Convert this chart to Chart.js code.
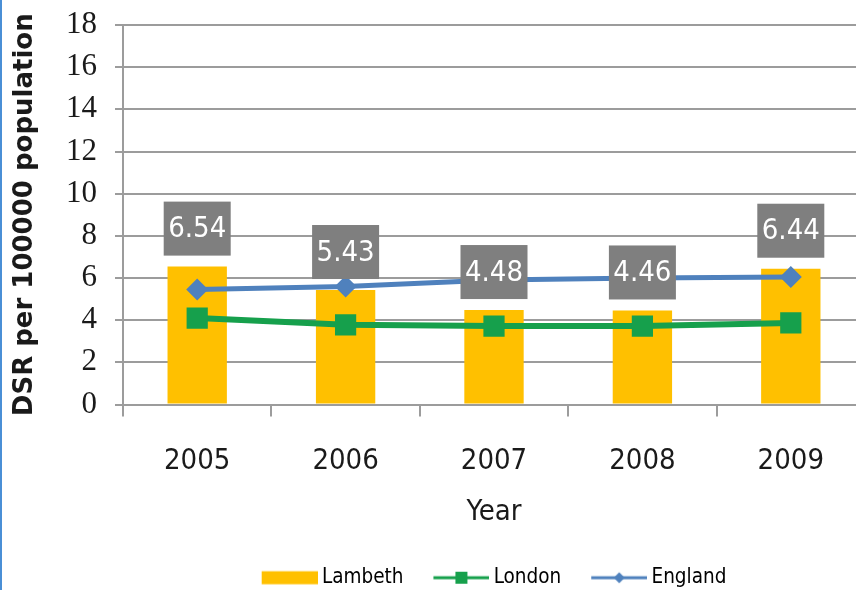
<!DOCTYPE html>
<html>
<head>
<meta charset="utf-8">
<title>DSR per 100000 population</title>
<script src="https://cdn.jsdelivr.net/npm/chart.js@4.4.1/dist/chart.umd.min.js"></script>
<style>
    html, body { margin: 0; padding: 0; background: #fff; overflow: hidden; }
    #quadro { position: relative; width: 856px; height: 590px; overflow: hidden; }
    #borda { position: absolute; left: 0; top: 0; width: 2px; height: 590px; background: #4a8fd6; }
    canvas { position: absolute; left: 0; top: 0; }
</style>
</head>
<body>
<div id="quadro">
    <canvas id="grafico" width="880" height="590"></canvas>
    <div id="borda"></div>
</div>
<script>
const years = ['2005', '2006', '2007', '2008', '2009'];
const lambeth = [6.54, 5.43, 4.48, 4.46, 6.44];
const london = [4.1, 3.78, 3.72, 3.72, 3.87];
const england = [5.46, 5.6, 5.9, 6.0, 6.05];
const yTicks = [0, 2, 4, 6, 8, 10, 12, 14, 16, 18];

const amarelo = '#ffc000';
const verde = '#16a04c';
const azul = '#4f81bd';
const cinza = '#9c9c9c';
const narrow = '"Liberation Sans Narrow", "DejaVu Sans Condensed", sans-serif';

// small pictures for the legend: bar swatch, line with square, line with diamond
function simbolo(tipo, cor) {
    const c = document.createElement('canvas');
    c.width = 62;
    c.height = 16;
    const g = c.getContext('2d');
    g.fillStyle = cor;
    g.strokeStyle = cor;
    if (tipo == 'bar') {
        g.fillRect(6, 1.5, 56, 13);
        return c;
    }
    g.lineWidth = 3;
    g.beginPath();
    g.moveTo(6, 8);
    g.lineTo(62, 8);
    g.stroke();
    if (tipo == 'square') {
        g.fillRect(28, 2, 12, 12);
    } else {
        g.beginPath();
        g.moveTo(34, 2.5);
        g.lineTo(39.5, 8);
        g.lineTo(34, 13.5);
        g.lineTo(28.5, 8);
        g.closePath();
        g.fill();
    }
    return c;
}

// grey boxes with the Lambeth value above each bar
const caixasValor = {
    id: 'caixasValor',
    afterDatasetsDraw(chart) {
        const ctx = chart.ctx;
        const meta = chart.getDatasetMeta(0);
        ctx.save();
        ctx.font = '29px ' + narrow;
        ctx.textAlign = 'center';
        ctx.textBaseline = 'middle';
        meta.data.forEach((barra, i) => {
            const w = 67, h = 54;
            const x = barra.x - w / 2;
            const y = barra.y - 11 - h;
            ctx.fillStyle = '#7f7f7f';
            ctx.fillRect(x, y, w, h);
            ctx.fillStyle = '#ffffff';
            ctx.fillText(lambeth[i].toFixed(2), barra.x, y + h / 2 + 1);
        });
        ctx.restore();
    }
};

const data = {
    labels: years,
    datasets: [{
        type: 'bar',
        label: 'Lambeth',
        data: lambeth,
        backgroundColor: amarelo,
        borderWidth: 0,
        categoryPercentage: 1,
        barPercentage: 0.4,
        order: 3,
    }, {
        type: 'line',
        label: 'London',
        data: london,
        borderColor: verde,
        borderWidth: 6,
        pointStyle: 'rect',
        pointRadius: 15,
        pointBackgroundColor: verde,
        pointBorderWidth: 0,
        tension: 0,
        order: 2,
    }, {
        type: 'line',
        label: 'England',
        data: england,
        borderColor: azul,
        borderWidth: 5,
        pointStyle: 'rectRot',
        pointRadius: 11,
        pointBackgroundColor: azul,
        pointBorderWidth: 0,
        tension: 0,
        order: 1,
    }]
};

const config = {
    data: data,
    plugins: [caixasValor],
    options: {
        responsive: false,
        animation: false,
        layout: { padding: { top: 25, right: 15, bottom: -8, left: 0 } },
        plugins: {
            tooltip: { enabled: false },
            legend: {
                position: 'bottom',
                fullSize: false,
                labels: {
                    usePointStyle: true,
                    pointStyleWidth: 50,
                    padding: 30,
                    color: '#1a1a1a',
                    font: { family: narrow, size: 20.5 },
                    generateLabels: () => [
                        { text: 'Lambeth', pointStyle: simbolo('bar', amarelo), lineWidth: 0, datasetIndex: 0 },
                        { text: 'London', pointStyle: simbolo('square', verde), lineWidth: 0, datasetIndex: 1 },
                        { text: 'England', pointStyle: simbolo('diamond', azul), lineWidth: 0, datasetIndex: 2 },
                    ],
                },
            },
        },
        scales: {
            x: {
                offset: true,
                grid: {
                    drawOnChartArea: false,
                    tickLength: 12,
                    color: cinza,
                    lineWidth: 2,
                },
                border: { color: cinza, width: 2 },
                ticks: {
                    padding: 28,
                    color: '#1a1a1a',
                    font: { family: narrow, size: 29 },
                },
                title: {
                    display: true,
                    text: 'Year',
                    color: '#1a1a1a',
                    font: { family: narrow, size: 29 },
                    padding: { top: 0, bottom: 8 },
                },
                afterFit: (scale) => { scale.height = 133; },
            },
            y: {
                min: yTicks[0],
                max: yTicks[yTicks.length - 1],
                afterBuildTicks: (scale) => { scale.ticks = yTicks.map(v => ({ value: v })); },
                grid: {
                    tickLength: 8,
                    color: cinza,
                    lineWidth: 2,
                },
                border: { color: cinza, width: 2 },
                ticks: {
                    autoSkip: false,
                    padding: 18,
                    color: '#1a1a1a',
                    font: { family: '"Liberation Serif", "DejaVu Serif", serif', size: 31 },
                },
                title: {
                    display: true,
                    text: 'DSR per 100000 population',
                    color: '#1a1a1a',
                    font: { family: '"DejaVu Sans", sans-serif', size: 26, weight: 'bold' },
                    padding: { top: 10, bottom: 0 },
                },
                afterFit: (scale) => {
                    scale.width = 123;
                    scale.paddingTop = 0;
                    scale.paddingBottom = 0;
                },
            },
        },
    },
};

new Chart(document.getElementById('grafico'), config);
</script>
</body>
</html>
